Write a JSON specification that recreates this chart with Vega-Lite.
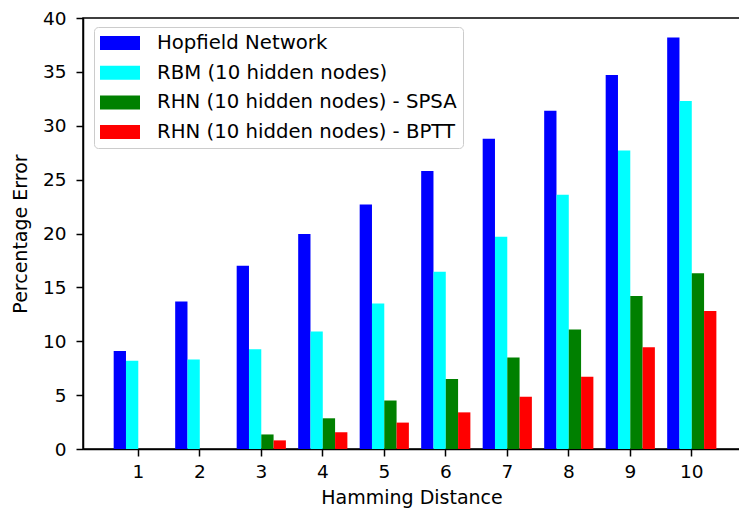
{
  "$schema": "https://vega.github.io/schema/vega-lite/v6.json",
  "width": 657,
  "height": 431,
  "autosize": {"type": "none"},
  "padding": {"left": 83, "top": 18, "right": 0, "bottom": 61},
  "background": "white",
  "config": {
    "font": "DejaVu Sans",
    "view": {"stroke": "black", "strokeWidth": 1.5},
    "axis": {
      "grid": false,
      "domainColor": "black",
      "domainWidth": 1.5,
      "tickColor": "black",
      "tickWidth": 1.5,
      "tickSize": 7,
      "labelFont": "DejaVu Sans",
      "labelFontSize": 18.5,
      "labelColor": "black",
      "labelPadding": 6,
      "titleFont": "DejaVu Sans",
      "titleFontSize": 19,
      "titleFontWeight": "normal",
      "titleColor": "black"
    }
  },
  "data": {
    "values": [
      {"distance": 1, "method": "Hopfield Network", "error": 9.1},
      {"distance": 1, "method": "RBM (10 hidden nodes)", "error": 8.2},
      {"distance": 1, "method": "RHN (10 hidden nodes) - SPSA", "error": 0},
      {"distance": 1, "method": "RHN (10 hidden nodes) - BPTT", "error": 0},
      {"distance": 2, "method": "Hopfield Network", "error": 13.7},
      {"distance": 2, "method": "RBM (10 hidden nodes)", "error": 8.3},
      {"distance": 2, "method": "RHN (10 hidden nodes) - SPSA", "error": 0},
      {"distance": 2, "method": "RHN (10 hidden nodes) - BPTT", "error": 0},
      {"distance": 3, "method": "Hopfield Network", "error": 17.0},
      {"distance": 3, "method": "RBM (10 hidden nodes)", "error": 9.25},
      {"distance": 3, "method": "RHN (10 hidden nodes) - SPSA", "error": 1.35},
      {"distance": 3, "method": "RHN (10 hidden nodes) - BPTT", "error": 0.8},
      {"distance": 4, "method": "Hopfield Network", "error": 19.95},
      {"distance": 4, "method": "RBM (10 hidden nodes)", "error": 10.9},
      {"distance": 4, "method": "RHN (10 hidden nodes) - SPSA", "error": 2.85},
      {"distance": 4, "method": "RHN (10 hidden nodes) - BPTT", "error": 1.55},
      {"distance": 5, "method": "Hopfield Network", "error": 22.7},
      {"distance": 5, "method": "RBM (10 hidden nodes)", "error": 13.5},
      {"distance": 5, "method": "RHN (10 hidden nodes) - SPSA", "error": 4.5},
      {"distance": 5, "method": "RHN (10 hidden nodes) - BPTT", "error": 2.45},
      {"distance": 6, "method": "Hopfield Network", "error": 25.8},
      {"distance": 6, "method": "RBM (10 hidden nodes)", "error": 16.45},
      {"distance": 6, "method": "RHN (10 hidden nodes) - SPSA", "error": 6.5},
      {"distance": 6, "method": "RHN (10 hidden nodes) - BPTT", "error": 3.4},
      {"distance": 7, "method": "Hopfield Network", "error": 28.8},
      {"distance": 7, "method": "RBM (10 hidden nodes)", "error": 19.7},
      {"distance": 7, "method": "RHN (10 hidden nodes) - SPSA", "error": 8.5},
      {"distance": 7, "method": "RHN (10 hidden nodes) - BPTT", "error": 4.85},
      {"distance": 8, "method": "Hopfield Network", "error": 31.4},
      {"distance": 8, "method": "RBM (10 hidden nodes)", "error": 23.6},
      {"distance": 8, "method": "RHN (10 hidden nodes) - SPSA", "error": 11.1},
      {"distance": 8, "method": "RHN (10 hidden nodes) - BPTT", "error": 6.7},
      {"distance": 9, "method": "Hopfield Network", "error": 34.7},
      {"distance": 9, "method": "RBM (10 hidden nodes)", "error": 27.7},
      {"distance": 9, "method": "RHN (10 hidden nodes) - SPSA", "error": 14.2},
      {"distance": 9, "method": "RHN (10 hidden nodes) - BPTT", "error": 9.45},
      {"distance": 10, "method": "Hopfield Network", "error": 38.2},
      {"distance": 10, "method": "RBM (10 hidden nodes)", "error": 32.3},
      {"distance": 10, "method": "RHN (10 hidden nodes) - SPSA", "error": 16.3},
      {"distance": 10, "method": "RHN (10 hidden nodes) - BPTT", "error": 12.8}
    ]
  },
  "mark": {"type": "bar"},
  "encoding": {
    "x": {
      "field": "distance",
      "type": "ordinal",
      "scale": {"paddingInner": 0.2, "paddingOuter": 0.4415, "align": 0.565},
      "axis": {"title": "Hamming Distance", "labelAngle": 0, "titlePadding": 8}
    },
    "xOffset": {
      "field": "method",
      "type": "nominal",
      "scale": {"domain": ["Hopfield Network", "RBM (10 hidden nodes)", "RHN (10 hidden nodes) - SPSA", "RHN (10 hidden nodes) - BPTT"]}
    },
    "y": {
      "field": "error",
      "type": "quantitative",
      "scale": {"domain": [0, 40], "nice": false},
      "axis": {"title": "Percentage Error", "values": [0, 5, 10, 15, 20, 25, 30, 35, 40], "labelPadding": 10, "titlePadding": 12}
    },
    "color": {
      "field": "method",
      "type": "nominal",
      "scale": {
        "domain": ["Hopfield Network", "RBM (10 hidden nodes)", "RHN (10 hidden nodes) - SPSA", "RHN (10 hidden nodes) - BPTT"],
        "range": ["#0000ff", "#00ffff", "#008000", "#ff0000"]
      },
      "legend": {
        "title": null,
        "orient": "none",
        "legendX": 11,
        "legendY": 9,
        "padding": 6,
        "strokeColor": "#cccccc",
        "fillColor": "rgba(255,255,255,0.8)",
        "cornerRadius": 4,
        "symbolType": "M-1,-0.7L3,-0.7L3,0.7L-1,0.7Z",
        "symbolSize": 400,
        "symbolStrokeWidth": 0,
        "symbolOpacity": 1,
        "labelFont": "DejaVu Sans",
        "labelFontSize": 19.7,
        "labelColor": "black",
        "labelLimit": 500,
        "labelOffset": 37,
        "rowPadding": 9.7
      }
    }
  }
}
